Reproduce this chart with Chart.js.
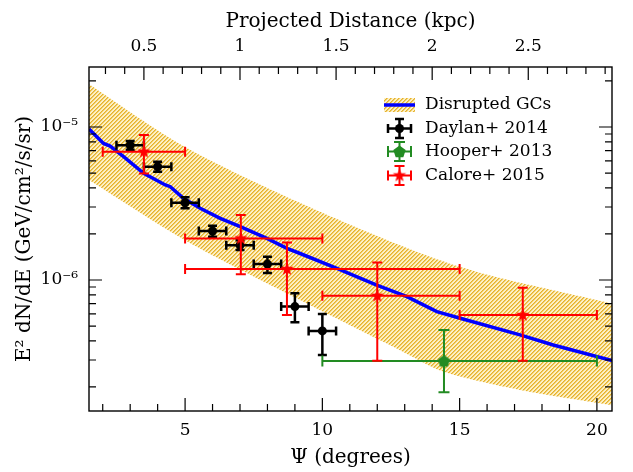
<!DOCTYPE html>
<html>
<head>
<meta charset="utf-8">
<script src="https://cdn.jsdelivr.net/npm/chart.js@4.4.0/dist/chart.umd.min.js"></script>
<style>
  html, body { margin: 0; padding: 0; background: #fff; }
</style>
</head>
<body>
<canvas id="c" width="633" height="472"></canvas>
<script>
// --- Data ---
const X_MIN = 1.5, X_MAX = 20.55;           // degrees
const DEG_PER_KPC = 7.0;                     // top axis conversion
const Y_MIN = 1.393e-7, Y_MAX = 2.466e-5;

const X_MAJOR = [5, 10, 15, 20];
const KPC_MAJOR = [0.5, 1, 1.5, 2, 2.5];
const Y_MAJOR = [1e-6, 1e-5];
const Y_LABELS = ["10\u207B\u2076", "10\u207B\u2075"];

const MODEL_PSI  = [1.5, 2.03, 2.27, 2.76, 3.49, 4.28, 4.46, 4.94, 5.55, 6.28, 7.01, 7.98, 8.71, 9.19, 10.53, 11.98, 13.08, 14.17, 15.02, 17.2, 18.41, 20.55];
const MODEL_FLUX = [9.7e-6, 7.8e-6, 7.5e-6, 6.4e-6, 4.98e-6, 4.18e-6, 4.07e-6, 3.42e-6, 2.94e-6, 2.53e-6, 2.23e-6, 1.87e-6, 1.61e-6, 1.49e-6, 1.19e-6, 9.27e-7, 7.78e-7, 6.21e-7, 5.62e-7, 4.38e-7, 3.76e-7, 2.98e-7];

const BAND_HI_PSI = [1.5, 5, 10, 15, 20.55];
const BAND_HI     = [1.9e-5, 7.4e-6, 2.75e-6, 1.22e-6, 7.0e-7];
const BAND_LO_PSI = [1.5, 5, 9.19, 12.83, 14.43, 17.2, 20.55];
const BAND_LO     = [4.5e-6, 1.82e-6, 7.4e-7, 3.48e-7, 2.51e-7, 1.91e-7, 1.52e-7];

const DAYLAN_PSI  = [3, 4, 5, 6, 7, 8, 9, 10];
const DAYLAN_XLO  = [2.5, 3.5, 4.5, 5.5, 6.5, 7.5, 8.5, 9.5];
const DAYLAN_XHI  = [3.5, 4.5, 5.5, 6.5, 7.5, 8.5, 9.5, 10.5];
const DAYLAN_FLUX = [7.6e-6, 5.5e-6, 3.2e-6, 2.09e-6, 1.69e-6, 1.27e-6, 6.7e-7, 4.65e-7];
const DAYLAN_HI   = [8.1e-6, 5.93e-6, 3.47e-6, 2.26e-6, 1.82e-6, 1.42e-6, 8.18e-7, 6.0e-7];
const DAYLAN_LO   = [7.1e-6, 5.1e-6, 2.94e-6, 1.92e-6, 1.57e-6, 1.11e-6, 5.3e-7, 3.24e-7];

const HOOPER_PSI  = [14.43];
const HOOPER_XLO  = [10];
const HOOPER_XHI  = [20];
const HOOPER_FLUX = [2.96e-7];
const HOOPER_HI   = [4.71e-7];
const HOOPER_LO   = [1.85e-7];

const CALORE_PSI  = [3.5, 7.03, 8.71, 12, 17.3];
const CALORE_XLO  = [2, 5, 5, 10, 15];
const CALORE_XHI  = [5, 10, 15, 15, 20];
const CALORE_FLUX = [6.9e-6, 1.87e-6, 1.18e-6, 7.88e-7, 5.9e-7];
const CALORE_HI   = [8.87e-6, 2.66e-6, 1.76e-6, 1.3e-6, 8.9e-7];
const CALORE_LO   = [4.97e-6, 1.09e-6, 5.9e-7, 2.97e-7, 2.97e-7];

const FONT = "DejaVu Serif";
const pts = (xs, ys) => xs.map((x, i) => ({ x, y: ys[i] }));

// --- Marker and hatch images ---
function makeHatch() {
  const c = document.createElement("canvas");
  c.width = 4; c.height = 4;
  const g = c.getContext("2d");
  for (let i = 0; i < 4; i++) {
    for (let j = 0; j < 4; j++) {
      const k = (i + j) % 4;
      g.fillStyle = k === 0 ? "#e6b12e" : k === 1 ? "#f0cb62" : "#fcf0c6";
      g.fillRect(i, j, 1, 1);
    }
  }
  return g.createPattern(c, "repeat");
}

function makeStar(color, rOut, rIn) {
  const s = Math.ceil(rOut * 2 + 2);
  const c = document.createElement("canvas");
  c.width = s; c.height = s;
  const g = c.getContext("2d");
  g.fillStyle = color;
  g.beginPath();
  for (let k = 0; k < 10; k++) {
    const r = k % 2 ? rIn : rOut;
    const a = -Math.PI / 2 + k * Math.PI / 5;
    g.lineTo(s / 2 + r * Math.cos(a), s / 2 + r * Math.sin(a));
  }
  g.closePath(); g.fill();
  return c;
}

function makePentagon(color, r) {
  const s = Math.ceil(r * 2 + 2);
  const c = document.createElement("canvas");
  c.width = s; c.height = s;
  const g = c.getContext("2d");
  g.fillStyle = color;
  g.beginPath();
  for (let k = 0; k < 5; k++) {
    const a = -Math.PI / 2 + k * 2 * Math.PI / 5;
    g.lineTo(s / 2 + r * Math.cos(a), s / 2 + r * Math.sin(a) + 0.6);
  }
  g.closePath(); g.fill();
  return c;
}

const hatch = makeHatch();
const starImg = makeStar("#ff0000", 7, 2.9);
const pentImg = makePentagon("#228b22", 6.5);

// error bar sets keyed by dataset label
const ERR = {
  "Calore+ 2015": { color: "#ff0000", lw: 2, cap: 5, psi: CALORE_PSI, xlo: CALORE_XLO, xhi: CALORE_XHI, flux: CALORE_FLUX, lo: CALORE_LO, hi: CALORE_HI },
  "Hooper+ 2013": { color: "#228b22", lw: 2, cap: 5.5, psi: HOOPER_PSI, xlo: HOOPER_XLO, xhi: HOOPER_XHI, flux: HOOPER_FLUX, lo: HOOPER_LO, hi: HOOPER_HI },
  "Daylan+ 2014": { color: "#000000", lw: 2.5, cap: 4.5, psi: DAYLAN_PSI, xlo: DAYLAN_XLO, xhi: DAYLAN_XHI, flux: DAYLAN_FLUX, lo: DAYLAN_LO, hi: DAYLAN_HI }
};

function strokeErr(ctx, e, x0, x1, px, py, y0, y1) {
  const c = e.cap;
  ctx.beginPath();
  ctx.moveTo(x0, py); ctx.lineTo(x1, py);
  ctx.moveTo(px, y0); ctx.lineTo(px, y1);
  ctx.moveTo(x0, py - c); ctx.lineTo(x0, py + c);
  ctx.moveTo(x1, py - c); ctx.lineTo(x1, py + c);
  ctx.moveTo(px - c, y0); ctx.lineTo(px + c, y0);
  ctx.moveTo(px - c, y1); ctx.lineTo(px + c, y1);
  ctx.stroke();
}

const errorBars = {
  id: "errorBars",
  beforeDatasetDraw(chart, args) {
    const ds = chart.data.datasets[args.index];
    const e = ERR[ds.label];
    if (!e) return;
    const { ctx, scales: { x, y } } = chart;
    ctx.save();
    ctx.strokeStyle = e.color;
    ctx.lineWidth = e.lw;
    e.psi.forEach((p, i) => {
      strokeErr(ctx, e,
        x.getPixelForValue(e.xlo[i]), x.getPixelForValue(e.xhi[i]),
        x.getPixelForValue(p), y.getPixelForValue(e.flux[i]),
        y.getPixelForValue(e.lo[i]), y.getPixelForValue(e.hi[i]));
    });
    ctx.restore();
  }
};

// inward ticks + frame
function minorList(from, to, step, skip) {
  const out = [];
  for (let v = from; v <= to + 1e-9; v += step) {
    const r = Math.round(v * 100) / 100;
    if (!skip.some(s => Math.abs(s - r) < 1e-6)) out.push(r);
  }
  return out;
}
const X_MINOR = minorList(2, 20, 1, X_MAJOR);
const KPC_MINOR = minorList(0.3, 2.9, 0.1, KPC_MAJOR);
const Y_MINOR = [];
[1e-7, 1e-6, 1e-5].forEach(d => { for (let m = 2; m <= 9; m++) if (m * d < Y_MAX) Y_MINOR.push(m * d); });

const frame = {
  id: "frame",
  afterDraw(chart) {
    const { ctx, chartArea: a, scales: { x, x2, y } } = chart;
    ctx.save();
    ctx.strokeStyle = "#000";
    ctx.lineWidth = 1.4;
    ctx.strokeRect(a.left, a.top, a.right - a.left, a.bottom - a.top);
    ctx.lineWidth = 1.2;
    ctx.beginPath();
    const vt = (px, len) => {
      ctx.moveTo(px, a.bottom); ctx.lineTo(px, a.bottom - len);
    };
    const vtTop = (px, len) => {
      ctx.moveTo(px, a.top); ctx.lineTo(px, a.top + len);
    };
    const ht = (py, len) => {
      ctx.moveTo(a.left, py); ctx.lineTo(a.left + len, py);
      ctx.moveTo(a.right, py); ctx.lineTo(a.right - len, py);
    };
    X_MAJOR.forEach(v => vt(x.getPixelForValue(v), 13));
    X_MINOR.forEach(v => vt(x.getPixelForValue(v), 7));
    KPC_MAJOR.forEach(v => vtTop(x2.getPixelForValue(v), 13));
    KPC_MINOR.forEach(v => vtTop(x2.getPixelForValue(v), 7));
    Y_MAJOR.forEach(v => ht(y.getPixelForValue(v), 13));
    Y_MINOR.forEach(v => ht(y.getPixelForValue(v), 7));
    ctx.stroke();
    ctx.restore();
  }
};

// legend drawn inside the plot
const legendBox = {
  id: "legendBox",
  afterDraw(chart) {
    const ctx = chart.ctx;
    const sx = 399.5, tx = 425;
    const rows = [105, 128.5, 151.5, 175.5];
    ctx.save();
    // band + line
    ctx.fillStyle = hatch;
    ctx.fillRect(384, rows[0] - 7, 31, 14);
    ctx.strokeStyle = "#0000ff";
    ctx.lineWidth = 3.5;
    ctx.beginPath(); ctx.moveTo(384, rows[0]); ctx.lineTo(415, rows[0]); ctx.stroke();
    // markers with error bars
    const items = [["Daylan+ 2014", null], ["Hooper+ 2013", pentImg], ["Calore+ 2015", starImg]];
    items.forEach(([name, img], k) => {
      const e = ERR[name], py = rows[k + 1];
      ctx.strokeStyle = e.color;
      ctx.lineWidth = e.lw;
      strokeErr(ctx, e, sx - 11.5, sx + 11.5, sx, py, py + 9.5, py - 9.5);
      if (img) {
        ctx.drawImage(img, sx - img.width / 2, py - img.height / 2);
      } else {
        ctx.fillStyle = "#000";
        ctx.beginPath(); ctx.arc(sx, py, 4.5, 0, Math.PI * 2); ctx.fill();
      }
    });
    ctx.fillStyle = "#000";
    ctx.font = "17px '" + FONT + "'";
    ctx.textBaseline = "middle";
    ["Disrupted GCs", "Daylan+ 2014", "Hooper+ 2013", "Calore+ 2015"].forEach((t, k) => ctx.fillText(t, tx, rows[k]));
    ctx.restore();
  }
};

const tickFont = { family: FONT, size: 17 };
const titleFont = { family: FONT, size: 20 };

new Chart(document.getElementById("c"), {
  type: "scatter",
  data: {
    datasets: [
      { label: "Calore+ 2015", data: pts(CALORE_PSI, CALORE_FLUX), pointStyle: starImg, pointRadius: 7, showLine: false },
      { label: "Hooper+ 2013", data: pts(HOOPER_PSI, HOOPER_FLUX), pointStyle: pentImg, pointRadius: 7, showLine: false },
      { label: "Daylan+ 2014", data: pts(DAYLAN_PSI, DAYLAN_FLUX), pointStyle: "circle", pointRadius: 4.5, backgroundColor: "#000", borderWidth: 0, showLine: false },
      { label: "Disrupted GCs", data: pts(MODEL_PSI, MODEL_FLUX), showLine: true, borderColor: "#0000ff", borderWidth: 3.5, pointRadius: 0, tension: 0 },
      { label: "band hi", data: pts(BAND_HI_PSI, BAND_HI), showLine: true, borderWidth: 0, pointRadius: 0, fill: "+1", backgroundColor: hatch, tension: 0.3 },
      { label: "band lo", data: pts(BAND_LO_PSI, BAND_LO), showLine: true, borderWidth: 0, pointRadius: 0, tension: 0.3 }
    ]
  },
  options: {
    responsive: false,
    animation: false,
    layout: { padding: { left: 0, right: 21, top: 0, bottom: 0 } },
    plugins: { legend: { display: false }, tooltip: { enabled: false } },
    scales: {
      x: {
        type: "linear", position: "bottom", min: X_MIN, max: X_MAX,
        afterBuildTicks: s => { s.ticks = X_MAJOR.map(v => ({ value: v })); },
        ticks: { font: tickFont, color: "#000", padding: 9, maxRotation: 0 },
        grid: { display: false, drawTicks: false },
        border: { display: false },
        title: { display: true, text: "\u03A8 (degrees)", font: titleFont, color: "#000", padding: { top: 0, bottom: 2 } },
        afterFit: s => { s.height = 61; }
      },
      x2: {
        type: "linear", position: "top", min: X_MIN / DEG_PER_KPC, max: X_MAX / DEG_PER_KPC,
        afterBuildTicks: s => { s.ticks = KPC_MAJOR.map(v => ({ value: v })); },
        ticks: { font: tickFont, color: "#000", padding: 10, maxRotation: 0, callback: v => String(v) },
        grid: { display: false, drawTicks: false },
        border: { display: false },
        title: { display: true, text: "Projected Distance (kpc)", font: titleFont, color: "#000", padding: { top: 10, bottom: 0 } },
        afterFit: s => { s.height = 67; }
      },
      y: {
        type: "logarithmic", position: "left", min: Y_MIN, max: Y_MAX,
        afterBuildTicks: s => { s.ticks = Y_MAJOR.map(v => ({ value: v })); },
        ticks: { font: tickFont, color: "#000", padding: 11, callback: (v) => Y_LABELS[Y_MAJOR.indexOf(v)] },
        grid: { display: false, drawTicks: false },
        border: { display: false },
        title: { display: true, text: "E\u00B2 dN/dE (GeV/cm\u00B2/s/sr)", font: titleFont, color: "#000", padding: { top: 13, bottom: 0 } },
        afterFit: s => { s.width = 89; }
      }
    }
  },
  plugins: [errorBars, frame, legendBox]
});
</script>
</body>
</html>
